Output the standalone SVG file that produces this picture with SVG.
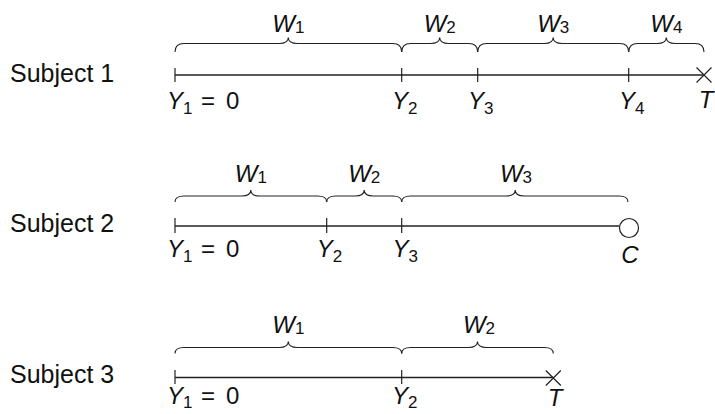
<svg xmlns="http://www.w3.org/2000/svg" width="715" height="414" viewBox="0 0 715 414">
<style>
.subj{font-family:"Liberation Sans",Arial,sans-serif;font-size:25px;fill:#111}
.m{font-family:"Liberation Sans",Arial,sans-serif;font-size:24px;fill:#111}
.i{font-style:italic}
.s{font-size:17px;font-style:normal}
.axis{stroke:#222;stroke-width:1.3;fill:none}
.tick{stroke:#222;stroke-width:1.2;fill:none}
.brace{stroke:#222;stroke-width:1.1;fill:none}
.cross{stroke:#222;stroke-width:1.2;fill:none}
</style>
<rect width="715" height="414" fill="#fff"/>

<g id="subject1">
  <text class="subj" x="10" y="82">Subject 1</text>
  <path class="axis" d="M175,75 H704"/>
  <path class="tick" d="M175,68 V82 M401.7,68 V82 M477.7,68 V82 M628.7,68 V82"/>
  <path class="cross" d="M696.5,67.5 L711.5,82.5 M711.5,67.5 L696.5,82.5"/>
  <path class="brace" d="M175,52 Q175,43.5 184,43.5 L279.3,43.5 Q288.3,43.5 288.3,37.5 Q288.3,43.5 297.3,43.5 L392.7,43.5 Q401.7,43.5 401.7,52"/>
  <path class="brace" d="M401.7,52 Q401.7,43.5 410.7,43.5 L430.7,43.5 Q439.7,43.5 439.7,37.5 Q439.7,43.5 448.7,43.5 L468.7,43.5 Q477.7,43.5 477.7,52"/>
  <path class="brace" d="M477.7,52 Q477.7,43.5 486.7,43.5 L544.2,43.5 Q553.2,43.5 553.2,37.5 Q553.2,43.5 562.2,43.5 L619.7,43.5 Q628.7,43.5 628.7,52"/>
  <path class="brace" d="M628.7,52 Q628.7,43.5 637.7,43.5 L657.3,43.5 Q666.3,43.5 666.3,37.5 Q666.3,43.5 675.3,43.5 L695,43.5 Q704,43.5 704,52"/>
  <text class="m" x="288.3" y="31.5" text-anchor="middle"><tspan class="i">W</tspan><tspan class="s" dy="1">1</tspan></text>
  <text class="m" x="439.7" y="31.5" text-anchor="middle"><tspan class="i">W</tspan><tspan class="s" dy="1">2</tspan></text>
  <text class="m" x="553.2" y="31.5" text-anchor="middle"><tspan class="i">W</tspan><tspan class="s" dy="1">3</tspan></text>
  <text class="m" x="666.3" y="31.5" text-anchor="middle"><tspan class="i">W</tspan><tspan class="s" dy="1">4</tspan></text>
  <text class="m" x="167" y="109"><tspan class="i">Y</tspan><tspan class="s" dy="5">1</tspan></text>
  <text class="m" x="201" y="109">=</text>
  <text class="m" x="226" y="109">0</text>
  <text class="m" x="392" y="109"><tspan class="i">Y</tspan><tspan class="s" dy="5">2</tspan></text>
  <text class="m" x="468" y="109"><tspan class="i">Y</tspan><tspan class="s" dy="5">3</tspan></text>
  <text class="m" x="619" y="109"><tspan class="i">Y</tspan><tspan class="s" dy="5">4</tspan></text>
  <text class="m i" x="706" y="108" text-anchor="middle">T</text>
</g>

<g id="subject2">
  <text class="subj" x="10" y="232">Subject 2</text>
  <path class="axis" d="M175,226 H619.5"/>
  <path class="tick" d="M175,218 V233 M326.7,218 V233 M401.7,218 V233"/>
  <circle cx="629" cy="228" r="9.5" fill="#fff" stroke="#222" stroke-width="1.2"/>
  <path class="brace" d="M175,202 Q175,196 184,196 L241.8,196 Q250.8,196 250.8,190 Q250.8,196 259.8,196 L317.7,196 Q326.7,196 326.7,202"/>
  <path class="brace" d="M326.7,202 Q326.7,196 335.7,196 L355.2,196 Q364.2,196 364.2,190 Q364.2,196 373.2,196 L392.7,196 Q401.7,196 401.7,202"/>
  <path class="brace" d="M401.7,202 Q401.7,196 410.7,196 L506.2,196 Q515.2,196 515.2,190 Q515.2,196 524.2,196 L619,196 Q628,196 628,202"/>
  <text class="m" x="250.8" y="181.7" text-anchor="middle"><tspan class="i">W</tspan><tspan class="s" dy="1">1</tspan></text>
  <text class="m" x="364.2" y="181.7" text-anchor="middle"><tspan class="i">W</tspan><tspan class="s" dy="1">2</tspan></text>
  <text class="m" x="516" y="181.7" text-anchor="middle"><tspan class="i">W</tspan><tspan class="s" dy="1">3</tspan></text>
  <text class="m" x="167" y="257"><tspan class="i">Y</tspan><tspan class="s" dy="5">1</tspan></text>
  <text class="m" x="201" y="257">=</text>
  <text class="m" x="226" y="257">0</text>
  <text class="m" x="316.7" y="257"><tspan class="i">Y</tspan><tspan class="s" dy="5">2</tspan></text>
  <text class="m" x="392.5" y="257"><tspan class="i">Y</tspan><tspan class="s" dy="5">3</tspan></text>
  <text class="m i" x="630" y="263" text-anchor="middle">C</text>
</g>

<g id="subject3">
  <text class="subj" x="10" y="383">Subject 3</text>
  <path class="axis" d="M175,377.5 H553.3"/>
  <path class="tick" d="M175,370 V384 M401.7,370 V384"/>
  <path class="cross" d="M545.8,370.5 L560.8,385.5 M560.8,370.5 L545.8,385.5"/>
  <path class="brace" d="M175,353.5 Q175,347.5 184,347.5 L279.3,347.5 Q288.3,347.5 288.3,341.5 Q288.3,347.5 297.3,347.5 L392.7,347.5 Q401.7,347.5 401.7,353.5"/>
  <path class="brace" d="M401.7,353.5 Q401.7,347.5 410.7,347.5 L468.5,347.5 Q477.5,347.5 477.5,341.5 Q477.5,347.5 486.5,347.5 L544.3,347.5 Q553.3,347.5 553.3,353.5"/>
  <text class="m" x="288.3" y="333.3" text-anchor="middle"><tspan class="i">W</tspan><tspan class="s" dy="1">1</tspan></text>
  <text class="m" x="479" y="333.3" text-anchor="middle"><tspan class="i">W</tspan><tspan class="s" dy="1">2</tspan></text>
  <text class="m" x="167" y="404"><tspan class="i">Y</tspan><tspan class="s" dy="4">1</tspan></text>
  <text class="m" x="201" y="404">=</text>
  <text class="m" x="226" y="404">0</text>
  <text class="m" x="392" y="404"><tspan class="i">Y</tspan><tspan class="s" dy="4">2</tspan></text>
  <text class="m i" x="555" y="406" text-anchor="middle">T</text>
</g>
</svg>
